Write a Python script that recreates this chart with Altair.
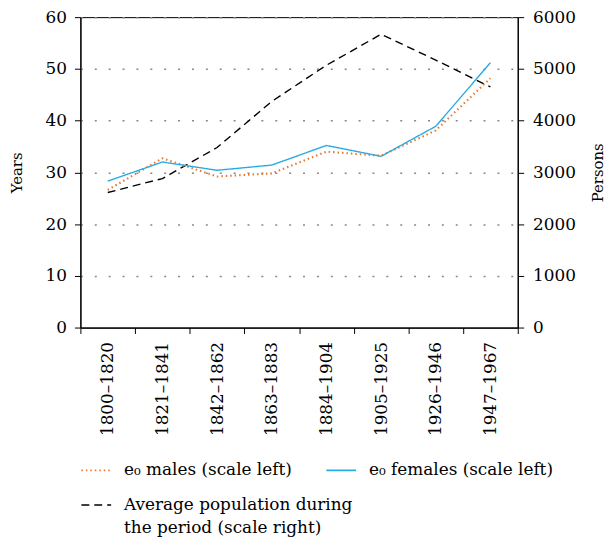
import json
import altair as alt
import pandas as pd

periods = ["1800–1820", "1821–1841", "1842–1862", "1863–1883",
           "1884–1904", "1905–1925", "1926–1946", "1947–1967"]
males = [26.6, 32.7, 29.2, 29.8, 34.0, 33.2, 38.1, 48.2]
females = [28.3, 32.0, 30.4, 31.4, 35.2, 33.1, 38.9, 51.2]
population = [2610, 2880, 3480, 4370, 5070, 5670, 5170, 4650]

life_keys = ["males", "females"]
life_labels = ["e₀ males (scale left)", "e₀ females (scale left)"]
life_colors = ["#E8772E", "#29ABE2"]
life_dashes = [[1.5, 3], [1, 0]]
life_widths = [2.1, 1.4]
pop_keys = ["pop"]
pop_label = ["Average population during", "the period (scale right)"]
pop_colors = ["#000000"]
pop_dashes = [[8, 5]]
left_ticks = [0, 10, 20, 30, 40, 50, 60]
right_ticks = [0, 1000, 2000, 3000, 4000, 5000, 6000]

FONT = "DejaVu Serif"

left_df = pd.DataFrame({
    "period": periods * 2,
    "value": males + females,
    "series": ["males"] * len(periods) + ["females"] * len(periods),
})
right_df = pd.DataFrame({
    "period": periods,
    "value": population,
    "series": ["pop"] * len(periods),
})

life_expr = (
    f"datum.value == 'males' ? {json.dumps(life_labels[0], ensure_ascii=False)} : "
    f"{json.dumps(life_labels[1], ensure_ascii=False)}"
)
pop_expr = json.dumps(pop_label, ensure_ascii=False)

common = dict(
    title=None, orient="none", legendX=0,
    symbolType="stroke", symbolSize=900, symbolStrokeWidth=1.6,
    labelFont=FONT, labelFontSize=17, labelLimit=500, labelColor="black",
    labelOffset=12, labelBaseline="middle",
)
legend_life = alt.Legend(legendY=441, direction="horizontal", columns=2,
                         columnPadding=30, labelExpr=life_expr, **common)
legend_pop = alt.Legend(legendY=476, labelExpr=pop_expr, **common)

x = alt.X(
    "period:N", sort=periods,
    scale=alt.Scale(type="band", paddingInner=0, paddingOuter=0),
    axis=alt.Axis(title=None, labelAngle=270, tickBand="extent", tickSize=6,
                  labelPadding=8, grid=False),
)

left = alt.Chart(left_df).mark_line().encode(
    x=x,
    y=alt.Y("value:Q", scale=alt.Scale(domain=[0, 60], nice=False),
            axis=alt.Axis(title="Years", values=left_ticks, grid=True,
                          gridDash=[2, 12], gridColor="#888888", gridWidth=1.5,
                          tickSize=6, labelPadding=8, titlePadding=21,
                          titleFontSize=15)),
    color=alt.Color("series:N", scale=alt.Scale(domain=life_keys, range=life_colors),
                    legend=legend_life),
    strokeDash=alt.StrokeDash("series:N", scale=alt.Scale(domain=life_keys, range=life_dashes),
                              legend=legend_life),
    strokeWidth=alt.StrokeWidth("series:N", scale=alt.Scale(domain=life_keys, range=life_widths),
                                legend=None),
    order=alt.Order("series:N"),
)

right = alt.Chart(right_df).mark_line(strokeWidth=1.4).encode(
    x=x,
    y=alt.Y("value:Q", scale=alt.Scale(domain=[0, 6000], nice=False),
            axis=alt.Axis(title="Persons", orient="right", values=right_ticks,
                          format="d", grid=False, tickSize=6, labelPadding=9,
                          titlePadding=30, titleAngle=270, titleFontSize=15)),
    color=alt.Color("series:N", scale=alt.Scale(domain=pop_keys, range=pop_colors),
                    legend=legend_pop),
    strokeDash=alt.StrokeDash("series:N", scale=alt.Scale(domain=pop_keys, range=pop_dashes),
                              legend=legend_pop),
)

chart = alt.layer(right, left).resolve_scale(
    y="independent", color="independent", strokeDash="independent"
).properties(
    width=441, height=313,
    autosize=alt.AutoSizeParams(type="none"),
    padding={"top": 7, "left": 73, "right": 90, "bottom": 212},
).configure(
    style={"guide-label": {"lineHeight": 23}}
).configure_view(stroke="black", strokeWidth=1).configure_axis(
    labelFont=FONT, titleFont=FONT, labelFontSize=17,
    titleFontWeight="normal", labelColor="black", titleColor="black",
    domainColor="black", tickColor="black", domainWidth=1.2,
)

chart.save("out.html", embed_options={"renderer": "svg", "actions": False})
